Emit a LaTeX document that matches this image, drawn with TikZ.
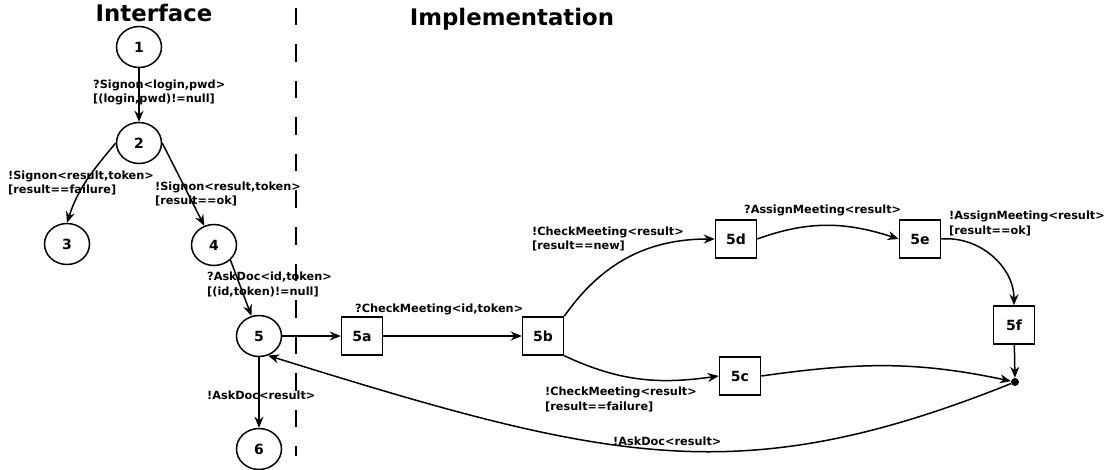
\documentclass[tikz,border=0pt]{standalone}
\usepackage{fontspec}
\setmainfont{DejaVu Sans}
\usetikzlibrary{arrows.meta,shapes.geometric}

\tikzset{
  state/.style={draw, ellipse, line width=1.5pt, minimum width=45pt, minimum height=41pt, inner sep=0pt, font=\fontsize{14}{14}\selectfont\bfseries},
  block/.style={draw, rectangle, line width=1.5pt, minimum width=41pt, minimum height=38pt, inner sep=0pt, font=\fontsize{14}{14}\selectfont\bfseries},
  lab/.style={anchor=base west, align=left, inner sep=0pt, font=\fontsize{11.3}{14.5}\selectfont\bfseries},
  title/.style={anchor=base, inner sep=0pt, font=\fontsize{22.8}{22.8}\selectfont\bfseries},
  trans/.style={line width=1.5pt, -{Stealth[length=11pt,width=9pt]}},
}

\begin{document}
\begin{tikzpicture}[x=1pt, y=-1pt]
    \useasboundingbox (0,0) rectangle (1107,470);

    % 标题
    \node[title] (tif) at (154,22) {Interface};
    \node[title] (tim) at (512,26) {Implementation};
    \draw[line width=1.5pt, dash pattern=on 17.5pt off 19pt] (296,8) -- (296,456);

    % 接口状态
    \node[state] (n1) at (139,47) {1};
    \node[state] (n2) at (139,143) {2};
    \node[state] (n3) at (67,244) {3};
    \node[state] (n4) at (214,245) {4};
    \node[state] (n5) at (259,336) {5};
    \node[state] (n6) at (259,449) {6};

    % 实现状态
    \node[block] (n5a) at (362,336) {5a};
    \node[block] (n5b) at (543,336) {5b};
    \node[block] (n5c) at (740,376) {5c};
    \node[block] (n5d) at (736,239) {5d};
    \node[block] (n5e) at (920,239) {5e};
    \node[block] (n5f) at (1014,325) {5f};
    \node[circle, fill, inner sep=0pt, minimum size=8pt] (dot) at (1015,382) {};

    % 接口转移
    \draw[trans] (n1) -- (n2);
    \draw[trans] (n2.west) to[out=-130, in=72] (n3.north);
    \draw[trans] (n2.east) -- (n4);
    \draw[trans] (n4.south east) -- (n5);
    \draw[trans] (n5) -- (n6);

    \node[lab] (l12) at (93,103) {?Signon<login,pwd>\\{[(login,pwd)!=null]}};
    \node[lab] (l23) at (8,194) {!Signon<result,token>\\{[result==failure]}};
    \node[lab] (l24) at (155,205) {!Signon<result,token>\\{[result==ok]}};
    \node[lab] (l45) at (207,295) {?AskDoc<id,token>\\{[(id,token)!=null]}};
    \node[lab] (l56) at (207,399) {!AskDoc<result>};

    % 实现转移
    \draw[trans] (n5) -- (n5a);
    \draw[trans] (n5a) -- (n5b);
    \draw[trans] (n5b.north east) to[out=55, in=180] (n5d.west);
    \draw[trans] (n5d.east) to[out=20, in=162] (n5e.west);
    \draw[trans] (n5e.east) to[out=5, in=90] (n5f.north);
    \draw[trans] (n5b.south east) to[out=-25, in=188] (n5c.west);
    \draw[trans] (n5c.east) to[out=8, in=168] (dot);
    \draw[trans] (n5f) -- (dot);
    \draw[trans] (dot) .. controls (740,492) and (610,462) .. (n5.-65);

    \node[lab] (l5ab) at (355,312) {?CheckMeeting<id,token>};
    \node[lab] (l5bd) at (532,250) {!CheckMeeting<result>\\{[result==new]}};
    \node[lab] (l5de) at (744,214) {?AssignMeeting<result>};
    \node[lab] (l5ef) at (949,234) {!AssignMeeting<result>\\{[result==ok]}};
    \node[lab] (l5bc) at (545,410) {!CheckMeeting<result>\\{[result==failure]}};
    \node[lab] (l5b5) at (613,445) {!AskDoc<result>};
  \end{tikzpicture}
\end{document}
